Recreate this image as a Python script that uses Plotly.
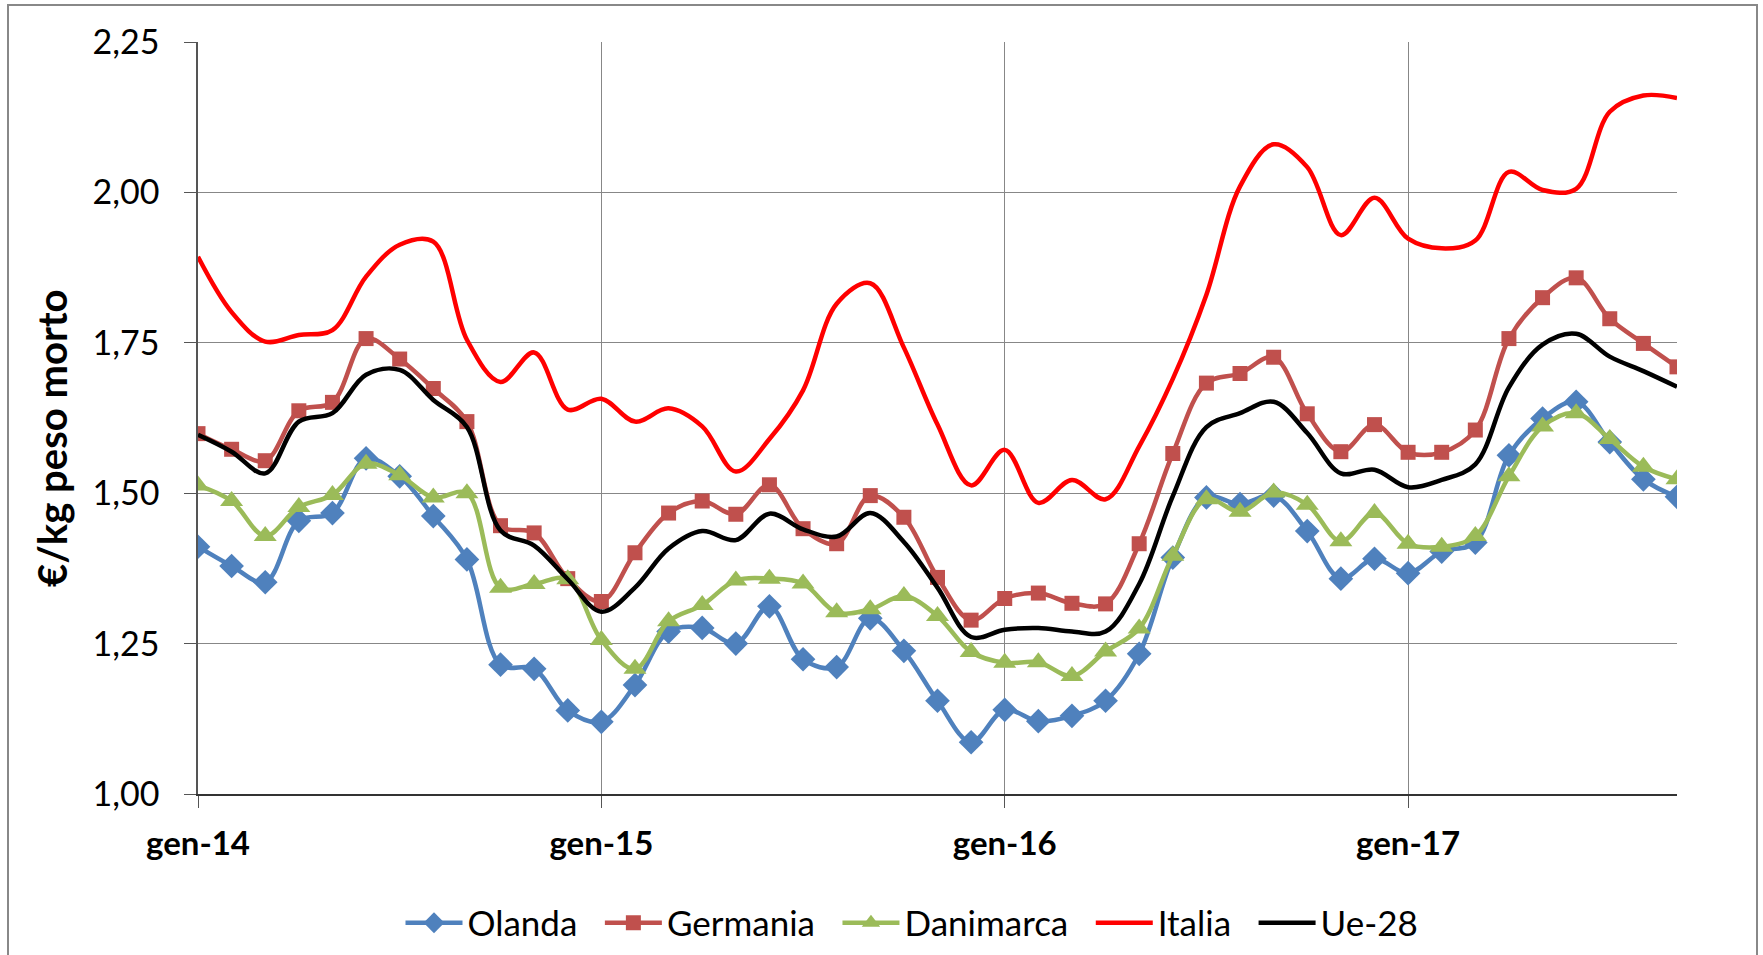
import plotly.graph_objects as go

mesi = ["gen", "feb", "mar", "apr", "mag", "giu", "lug", "ago", "set", "ott", "nov", "dic"]
months = [f"{mesi[i % 12]}-{14 + i // 12}" for i in range(45)]

olanda = [1.411, 1.379, 1.352, 1.454, 1.467, 1.558, 1.528, 1.462, 1.390, 1.215, 1.208, 1.139,
          1.120, 1.181, 1.270, 1.276, 1.250, 1.312, 1.224, 1.211, 1.292, 1.238, 1.155, 1.086,
          1.140, 1.121, 1.130, 1.155, 1.233, 1.393, 1.493, 1.482, 1.496, 1.437, 1.358, 1.391,
          1.367, 1.403, 1.418, 1.563, 1.624, 1.652, 1.585, 1.523, 1.494]
germania = [1.599, 1.573, 1.554, 1.637, 1.651, 1.757, 1.723, 1.674, 1.619, 1.446, 1.434, 1.358,
            1.320, 1.401, 1.467, 1.487, 1.465, 1.514, 1.441, 1.416, 1.496, 1.460, 1.360, 1.289,
            1.325, 1.334, 1.317, 1.316, 1.416, 1.566, 1.683, 1.699, 1.726, 1.632, 1.569, 1.614,
            1.568, 1.568, 1.605, 1.757, 1.825, 1.858, 1.790, 1.749, 1.710]
danimarca = [1.513, 1.487, 1.429, 1.477, 1.497, 1.549, 1.530, 1.493, 1.500, 1.343, 1.349, 1.357,
             1.256, 1.208, 1.287, 1.314, 1.355, 1.358, 1.350, 1.302, 1.307, 1.329, 1.296, 1.236,
             1.218, 1.219, 1.196, 1.237, 1.275, 1.396, 1.490, 1.469, 1.501, 1.481, 1.420, 1.467,
             1.416, 1.411, 1.429, 1.528, 1.611, 1.633, 1.590, 1.544, 1.523]
italia = [1.893, 1.801, 1.752, 1.763, 1.771, 1.860, 1.913, 1.918, 1.755, 1.685, 1.734, 1.639,
          1.657, 1.619, 1.641, 1.611, 1.536, 1.590, 1.671, 1.815, 1.849, 1.742, 1.614, 1.513,
          1.572, 1.484, 1.522, 1.490, 1.578, 1.690, 1.830, 2.010, 2.080, 2.042, 1.929, 1.991,
          1.923, 1.907, 1.920, 2.034, 2.004, 2.006, 2.134, 2.161, 2.157]
ue28 = [1.597, 1.569, 1.533, 1.619, 1.633, 1.697, 1.705, 1.655, 1.610, 1.438, 1.413, 1.357,
        1.303, 1.343, 1.408, 1.437, 1.422, 1.466, 1.440, 1.428, 1.467, 1.419, 1.343, 1.261,
        1.273, 1.276, 1.270, 1.270, 1.349, 1.495, 1.610, 1.633, 1.652, 1.600, 1.533, 1.539,
        1.510, 1.522, 1.548, 1.676, 1.747, 1.765, 1.727, 1.703, 1.677]

year_ticks = ["gen-14", "gen-15", "gen-16", "gen-17"]
y_ticks = [1.00, 1.25, 1.50, 1.75, 2.00, 2.25]

FONT = "Lato"
W, H = 1763, 955
L, R, T, B = 198, 86, 42, 161
PAD = "\u2002"  # spacing between legend entries

fig = go.Figure()
series = [
    ("Olanda", olanda, "#4F81BD", "diamond", 19),
    ("Germania", germania, "#C0504D", "square", 15),
    ("Danimarca", danimarca, "#9BBB59", "triangle-up", 20),
]
for name, vals, col, sym, ms in series:
    fig.add_trace(go.Scatter(x=months, y=vals, name=name + PAD, mode="lines+markers",
                             line=dict(color=col, width=4.5, shape="spline", smoothing=1),
                             marker=dict(symbol=sym, size=ms, color=col)))
fig.add_trace(go.Scatter(x=months, y=italia, name="Italia" + PAD, mode="lines",
                         line=dict(color="#FF0000", width=4.5, shape="spline", smoothing=1)))
fig.add_trace(go.Scatter(x=months, y=ue28, name="Ue-28", mode="lines",
                         line=dict(color="#000000", width=4.5, shape="spline", smoothing=1)))

pw = W - L - R
ph = H - T - B

def px_x(p):
    return (p - L) / pw

def px_y(p):
    return (H - B - p) / ph

fig.update_layout(
    width=W, height=H,
    margin=dict(l=L, r=R, t=T, b=B, autoexpand=False),
    paper_bgcolor="white", plot_bgcolor="white",
    separators=",.",
    font=dict(family=FONT, size=34, color="#000000"),
    showlegend=True,
    legend=dict(orientation="h", xref="container", yref="container",
                x=912 / W, xanchor="center", y=1 - 923 / H, yanchor="middle",
                font=dict(family=FONT, size=35), itemwidth=57, tracegroupgap=0),
    xaxis=dict(type="category", range=[0, 44], tickvals=year_ticks, ticktext=year_ticks,
               showgrid=True, gridcolor="#878787", gridwidth=1,
               ticks="outside", ticklen=12, tickcolor="#555555",
               tickfont=dict(family=FONT, size=33, weight="bold"),
               showline=True, linecolor="#333333", linewidth=1.5,
               ticklabelstandoff=8, zeroline=False, automargin=False),
    yaxis=dict(range=[1.0, 2.25], tickvals=y_ticks, tickformat=".2f",
               showgrid=True, gridcolor="#878787", gridwidth=1,
               ticks="outside", ticklen=12, tickcolor="#555555",
               tickfont=dict(family=FONT, size=34),
               showline=True, linecolor="#555555", linewidth=1.5,
               ticklabelstandoff=18, zeroline=False, automargin=False),
    annotations=[dict(text="<b>€/kg peso morto</b>", textangle=-90, xref="paper", yref="paper",
                      x=px_x(52), y=px_y(438), xanchor="center", yanchor="middle",
                      showarrow=False, font=dict(family=FONT, size=40))],
    shapes=[dict(type="rect", xref="paper", yref="paper", x0=px_x(8), y0=px_y(5),
                 x1=px_x(1757), y1=px_y(1010), line=dict(color="#888888", width=2), layer="below")],
)

fig.write_html("out.html", post_script="document.body.style.margin='0';",
               config={"displayModeBar": False})
